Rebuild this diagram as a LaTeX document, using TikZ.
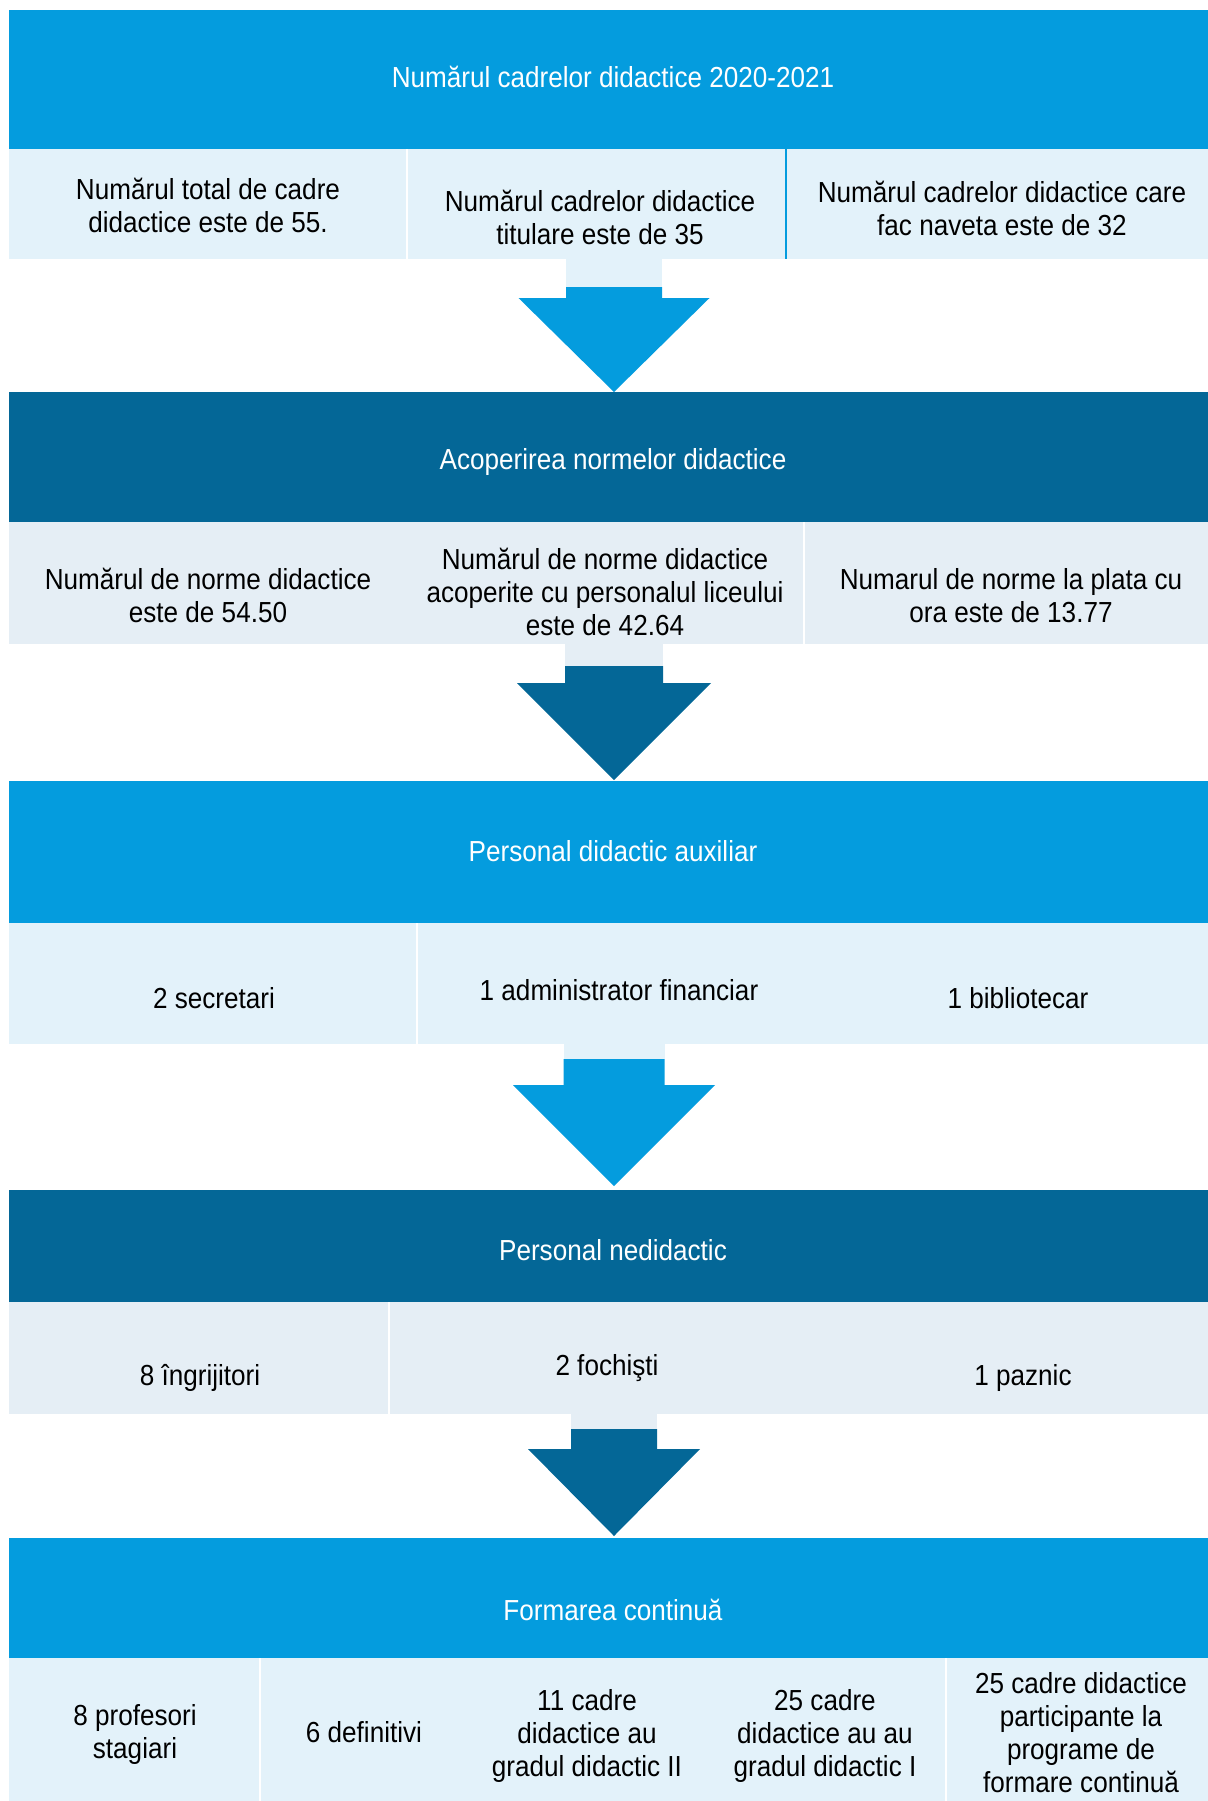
\documentclass[tikz,border=0pt]{standalone}
\usepackage{fontspec}
\setmainfont[FakeStretch=0.9]{Liberation Sans}
\usepackage{xcolor}
\usetikzlibrary{positioning}
\definecolor{headblue}{RGB}{4,156,222}
\definecolor{headdark}{RGB}{4,103,151}
\definecolor{celllight}{RGB}{227,242,250}
\definecolor{cellgrey}{RGB}{229,238,245}

% block arrow: stem colour, arrow colour, stem half, head half, y start, y arrow, y head, y tip
\newcommand{\flowarrow}[8]{%
  \fill[#1] (614-#3,#5) rectangle (614+#3,#6);
  \fill[#2] (614-#3,#6) -- (614+#3,#6) -- (614+#3,#7) -- (614+#4,#7)
    -- (614,#8) -- (614-#4,#7) -- (614-#3,#7) -- cycle;}

\begin{document}
\begin{tikzpicture}[
        x=0.5pt, y=-0.5pt,
        head/.style={anchor=base, inner sep=0pt, text=white, font=\fontsize{14.5}{16.5}\selectfont},
        cell/.style={anchor=base, inner sep=0pt, align=center, font=\fontsize{14.5}{16.5}\selectfont},
        divider/.style={white, line width=0.6pt}
    ]
        \useasboundingbox (0,0) rectangle (1208,1801);

        % bands
        \fill[headblue] (9,10) rectangle (1208,149);
        \fill[celllight] (9,149) rectangle (1208,259);
        \fill[headdark] (9,392) rectangle (1208,522);
        \fill[cellgrey] (9,522) rectangle (1208,644);
        \fill[headblue] (9,781) rectangle (1208,923);
        \fill[celllight] (9,923) rectangle (1208,1044);
        \fill[headdark] (9,1190) rectangle (1208,1302);
        \fill[cellgrey] (9,1302) rectangle (1208,1414);
        \fill[headblue] (9,1538) rectangle (1208,1658);
        \fill[celllight] (9,1658) rectangle (1208,1801);

        % dividers
        \draw[divider] (407,149) -- (407,259);
        \draw[headblue, line width=0.8pt] (786,149) -- (786,259);
        \draw[divider] (804,522) -- (804,644);
        \draw[divider] (417,923) -- (417,1044);
        \draw[divider] (389,1302) -- (389,1414);
        \draw[divider] (260,1658) -- (260,1801);
        \draw[divider] (946,1658) -- (946,1801);

        % arrows
        \flowarrow{celllight}{headblue}{48}{95.5}{259}{287}{298}{392}
        \flowarrow{cellgrey}{headdark}{49}{97}{644}{666}{683}{780}
        \flowarrow{celllight}{headblue}{50.5}{101}{1044}{1059}{1085}{1186}
        \flowarrow{cellgrey}{headdark}{43}{86}{1414}{1429}{1449}{1536}

        % Numarul cadrelor
        \node[head] (numar) at (613,87) {Numărul cadrelor didactice 2020-2021};
        \node[cell] (total) at (208,232) {Numărul total de cadre\\didactice este de 55.};
        \node[cell] (titulare) at (600,244) {Numărul cadrelor didactice\\titulare este de 35};
        \node[cell] (naveta) at (1002,235) {Numărul cadrelor didactice care\\fac naveta este de 32};

        % Acoperirea normelor
        \node[head] (acoperire) at (613,469) {Acoperirea normelor didactice};
        \node[cell] (norme) at (208,622) {Numărul de norme didactice\\este de 54.50};
        \node[cell] (acoperite) at (605,635) {Numărul de norme didactice\\acoperite cu personalul liceului\\este de 42.64};
        \node[cell] (plata) at (1011,622) {Numarul de norme la plata cu\\ora este de 13.77};

        % Personal didactic auxiliar
        \node[head] (auxiliar) at (613,861) {Personal didactic auxiliar};
        \node[cell] (secretari) at (214,1008) {2 secretari};
        \node[cell] (administrator) at (619,1000) {1 administrator financiar};
        \node[cell] (bibliotecar) at (1018,1008) {1 bibliotecar};

        % Personal nedidactic
        \node[head] (nedidactic) at (613,1260) {Personal nedidactic};
        \node[cell] (ingrijitori) at (200,1385) {8 îngrijitori};
        \node[cell] (fochisti) at (607,1375) {2 fochişti};
        \node[cell] (paznic) at (1023,1385) {1 paznic};

        % Formarea continua
        \node[head] (formare) at (613,1620) {Formarea continuă};
        \node[cell] (stagiari) at (135,1758) {8 profesori\\stagiari};
        \node[cell] (definitivi) at (364,1742) {6 definitivi};
        \node[cell] (gradII) at (587,1776) {11 cadre\\didactice au\\gradul didactic II};
        \node[cell] (gradI) at (825,1776) {25 cadre\\didactice au au\\gradul didactic I};
        \node[cell] (programe) at (1081,1792) {25 cadre didactice\\participante la\\programe de\\formare continuă};
    \end{tikzpicture}
\end{document}
